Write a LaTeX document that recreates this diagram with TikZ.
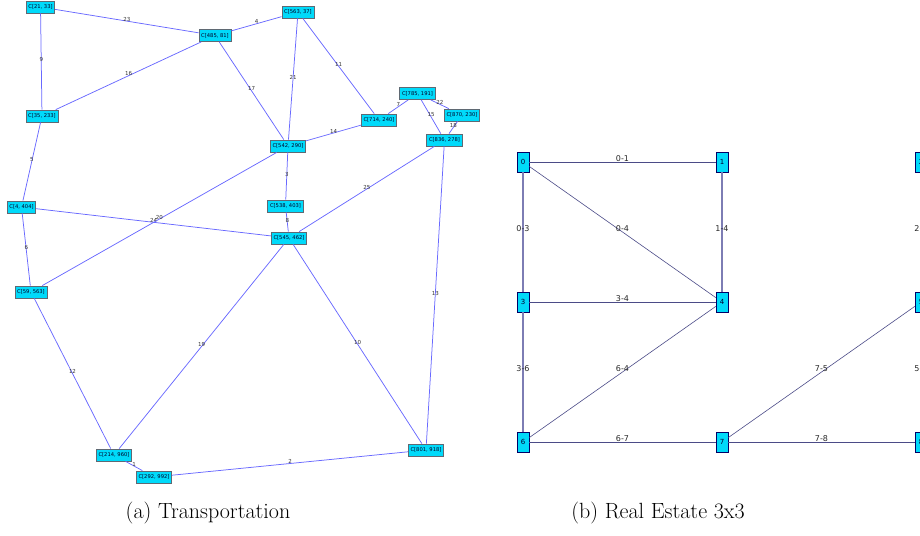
\documentclass[tikz,border=0pt]{standalone}
\usepackage{fontspec}
\newfontfamily\dv{DejaVu Sans}
\definecolor{nodecyan}{RGB}{0,218,250}
\definecolor{edgeblue}{RGB}{105,105,255}
\definecolor{edgeslate}{RGB}{75,75,135}
\definecolor{edgelight}{RGB}{125,125,180}
\definecolor{boxgray}{RGB}{95,105,115}
\tikzset{
  cnode/.style={draw=boxgray, fill=nodecyan, line width=0.8pt, minimum height=12pt, inner xsep=2.2pt, inner ysep=0pt, text=black!85!blue, font=\dv\fontsize{5.2}{6}\selectfont},
  tedge/.style={draw=edgeblue, line width=0.75pt},
  tlab/.style={font=\dv\fontsize{5.5}{6}\selectfont, text=black!80, inner sep=0pt, midway, yshift=2pt},
  gnode/.style={draw=black!60!blue, fill=nodecyan, line width=0.7pt, minimum width=12pt, minimum height=20pt, inner sep=0pt, text=black!80!blue, font=\dv\fontsize{7}{8}\selectfont},
  gedge/.style={draw=edgeslate, line width=0.9pt},
  gvert/.style={draw=edgelight, line width=1.2pt},
  gdiag/.style={draw=edgeslate, line width=0.6pt},
  glab/.style={font=\dv\fontsize{8}{9}\selectfont, text=black!85, inner sep=0pt, midway, yshift=3pt},
  capt/.style={font=\fontsize{22}{26}\selectfont, anchor=base}
}
\begin{document}
\begin{tikzpicture}[x=1pt,y=-1pt]
\path[use as bounding box] (0,0) rectangle (920,535);
\clip (0,0) rectangle (920,535);
% ---------- (a) Transportation ----------
\node[cnode] (n21) at (40.5,7) {C[21, 33]};
\node[cnode] (n485) at (215,35.5) {C[485, 81]};
\node[cnode] (n563) at (298,12) {C[563, 37]};
\node[cnode] (n35) at (42,116) {C[35, 233]};
\node[cnode] (n542) at (288,146) {C[542, 290]};
\node[cnode] (n714) at (379,120) {C[714, 240]};
\node[cnode] (n785) at (417.5,93.5) {C[785, 191]};
\node[cnode] (n870) at (462,115) {C[870, 230]};
\node[cnode] (n836) at (444.5,140) {C[836, 278]};
\node[cnode] (n4) at (21.5,207) {C[4, 404]};
\node[cnode] (n538) at (285.5,206) {C[538, 403]};
\node[cnode] (n545) at (289,238) {C[545, 462]};
\node[cnode] (n59) at (31,292) {C[59, 563]};
\node[cnode] (n214) at (114,455) {C[214, 960]};
\node[cnode] (n292) at (154,477) {C[292, 992]};
\node[cnode] (n801) at (426,450) {C[801, 918]};

\path[tedge] (n21) -- node[tlab]{23} (n485);
\path[tedge] (n21) -- node[tlab]{9} (n35);
\path[tedge] (n485) -- node[tlab]{4} (n563);
\path[tedge] (n485) -- node[tlab]{16} (n35);
\path[tedge] (n485) -- node[tlab]{17} (n542);
\path[tedge] (n563) -- node[tlab]{21} (n542);
\path[tedge] (n563) -- node[tlab]{11} (n714);
\path[tedge] (n542) -- node[tlab]{14} (n714);
\path[tedge] (n785) -- node[tlab]{7} (n714);
\path[tedge] (n785) -- node[tlab]{22} (n870);
\path[tedge] (n785) -- node[tlab]{15} (n836);
\path[tedge] (n870) -- node[tlab]{18} (n836);
\path[tedge] (n35) -- node[tlab]{5} (n4);
\path[tedge] (n4) -- node[tlab]{6} (n59);
\path[tedge] (n4) -- node[tlab]{24} (n545);
\path[tedge] (n542) -- node[tlab]{20} (n59);
\path[tedge] (n542) -- node[tlab]{3} (n538);
\path[tedge] (n538) -- node[tlab]{8} (n545);
\path[tedge] (n836) -- node[tlab]{25} (n545);
\path[tedge] (n836) -- node[tlab]{13} (n801);
\path[tedge] (n545) -- node[tlab]{10} (n801);
\path[tedge] (n545) -- node[tlab]{19} (n214);
\path[tedge] (n59) -- node[tlab]{12} (n214);
\path[tedge] (n214) -- node[tlab]{1} (n292);
\path[tedge] (n292) -- node[tlab]{2} (n801);

\node[capt] (capa) at (208,518) {(a) Transportation};

% ---------- (b) Real Estate 3x3 ----------
\node[gnode] (g0) at (523,162) {0};
\node[gnode] (g1) at (722,162) {1};
\node[gnode] (g2) at (921,162) {2};
\node[gnode] (g3) at (523,302) {3};
\node[gnode] (g4) at (722,302) {4};
\node[gnode] (g5) at (921,302) {5};
\node[gnode] (g6) at (523,442) {6};
\node[gnode] (g7) at (722,442) {7};
\node[gnode] (g8) at (921,442) {8};

\path[gedge] (g0) -- node[glab]{0-1} (g1);
\path[gvert] (g0) -- node[glab]{0-3} (g3);
\path[gdiag] (g0) -- node[glab]{0-4} (g4);
\path[gvert] (g1) -- node[glab]{1-4} (g4);
\path[gvert] (g2) -- node[glab]{2-5} (g5);
\path[gedge] (g3) -- node[glab]{3-4} (g4);
\path[gvert] (g3) -- node[glab]{3-6} (g6);
\path[gdiag] (g6) -- node[glab]{6-4} (g4);
\path[gedge] (g6) -- node[glab]{6-7} (g7);
\path[gdiag] (g7) -- node[glab]{7-5} (g5);
\path[gedge] (g7) -- node[glab]{7-8} (g8);
\path[gvert] (g5) -- node[glab]{5-8} (g8);

\node[capt] (capb) at (658,518) {(b) Real Estate 3x3};
\end{tikzpicture}
\end{document}
